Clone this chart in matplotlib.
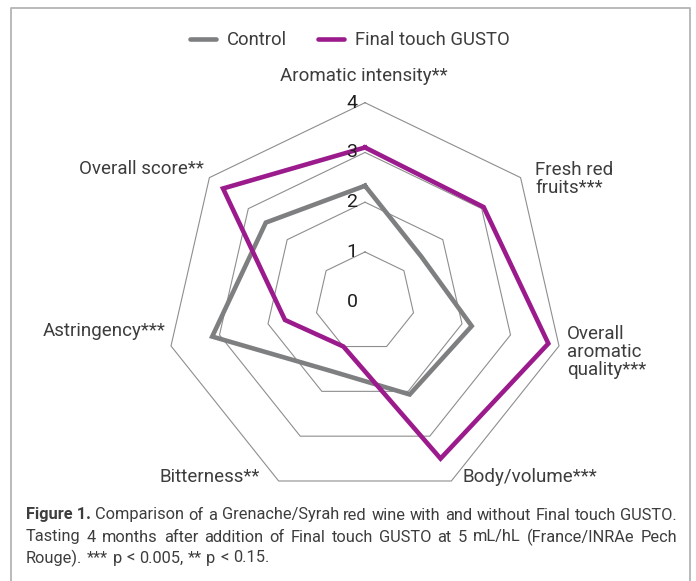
import numpy as np
import matplotlib
matplotlib.use("Agg")
import matplotlib.pyplot as plt
from matplotlib.lines import Line2D
from matplotlib.transforms import offset_copy

# data
categories = ["Aromatic intensity**", "Fresh red\nfruits***", "Overall\naromatic\nquality***",
              "Body/volume***", "Bitterness**", "Astringency***", "Overall score**"]
control = [2.33, 1.45, 2.2, 2.07, 1.55, 3.15, 2.55]
gusto = [3.1, 3.05, 3.78, 3.5, 1.0, 1.65, 3.65]
r_ticks = [0, 1, 2, 3, 4]
series_names = ["Control", "Final touch GUSTO"]

caption = [
    "Figure 1.|Comparison of a Grenache/Syrah red wine with and without Final touch GUSTO.",
    "Tasting 4 months after addition of Final touch GUSTO at 5 mL/hL (France/INRAe Pech",
    "Rouge). *** p < 0.005, ** p < 0.15.",
]

GREY = "#7e7f81"
PURPLE = "#9b1b8c"
TXT = "#3d3d3d"
RING = "#8e8e8e"

plt.rcParams["font.family"] = ["Roboto", "DejaVu Sans"]

W, H = 696, 581
fig = plt.figure(figsize=(W / 100, H / 100), dpi=100)

# radar centre and radius in pixels
cx, cy, R = 365, 301.7, 199
ax = fig.add_axes([(cx - R) / W, 1 - (cy + R) / H, 2 * R / W, 2 * R / H], projection="polar")
ax.set_theta_zero_location("N")
ax.set_theta_direction(-1)
ax.set_ylim(0, 4)
ax.set_axis_off()

n = len(categories)
theta = np.arange(n) * 2 * np.pi / n
tc = np.append(theta, theta[0])

for k in r_ticks[1:]:
    ax.plot(tc, [k] * (n + 1), color=RING, lw=0.8, clip_on=False, zorder=1)

for vals, col in [(control, GREY), (gusto, PURPLE)]:
    ax.plot(tc, vals + vals[:1], color=col, lw=3.3, clip_on=False, zorder=3,
            solid_joinstyle="miter")

off = offset_copy(ax.transData, fig=fig, x=-13, y=0, units="dots")
for k in r_ticks:
    ax.text(0, k, str(k), transform=off, ha="center", va="center", fontsize=14,
            color="#1e1e1e", zorder=5)

# category labels (pixel anchors)
lab_pos = [(364, 76, "center"), (535, 179, "left"), (567, 352, "left"), (463, 477, "left"),
           (260, 477, "right"), (166, 331, "right"), (204, 169, "right")]
for name, (x, y, ha) in zip(categories, lab_pos):
    fig.text(x / W, 1 - y / H, name, ha=ha, va="center", fontsize=13.5, color=TXT,
             linespacing=1.03)

handles = [Line2D([], [], color=GREY, lw=3.3, solid_capstyle="round"),
           Line2D([], [], color=PURPLE, lw=3.3, solid_capstyle="round")]
fig.legend(handles, series_names, loc="center", bbox_to_anchor=(350 / W, 1 - 40 / H), ncol=2,
           frameon=False, fontsize=13.3, handlelength=1.4, handletextpad=0.6, columnspacing=1.7,
           labelcolor=TXT)

# caption, justified like the original
x0, x1 = 26, 677
ys = [515, 537, 558]
fig.canvas.draw()
rend = fig.canvas.get_renderer()
for i, (line, y) in enumerate(zip(caption, ys)):
    bold_part = ""
    if "|" in line:
        bold_part, line = line.split("|")
    words = ([(bold_part, "bold")] if bold_part else []) + [(w, "normal") for w in line.split(" ")]
    texts = [fig.text(0, 1 - y / H, w, fontsize=11.8, weight=wt, color=TXT, va="center")
             for w, wt in words]
    widths = [t.get_window_extent(rend).width for t in texts]
    if i < len(caption) - 1:
        gap = (x1 - x0 - sum(widths)) / (len(words) - 1)
    else:
        gap = 4.5
    x = x0
    for t, w in zip(texts, widths):
        t.set_x(x / W)
        x += w + gap

# frame round the figure (no bottom edge)
fx0, fy0, fx1 = 11, 8, 690
fig.add_artist(Line2D([fx0 / W, fx0 / W, fx1 / W, fx1 / W], [0, 1 - fy0 / H, 1 - fy0 / H, 0],
                      transform=fig.transFigure, color="#b4b4b4", lw=1.3))

fig.savefig("out.png", dpi=100)
